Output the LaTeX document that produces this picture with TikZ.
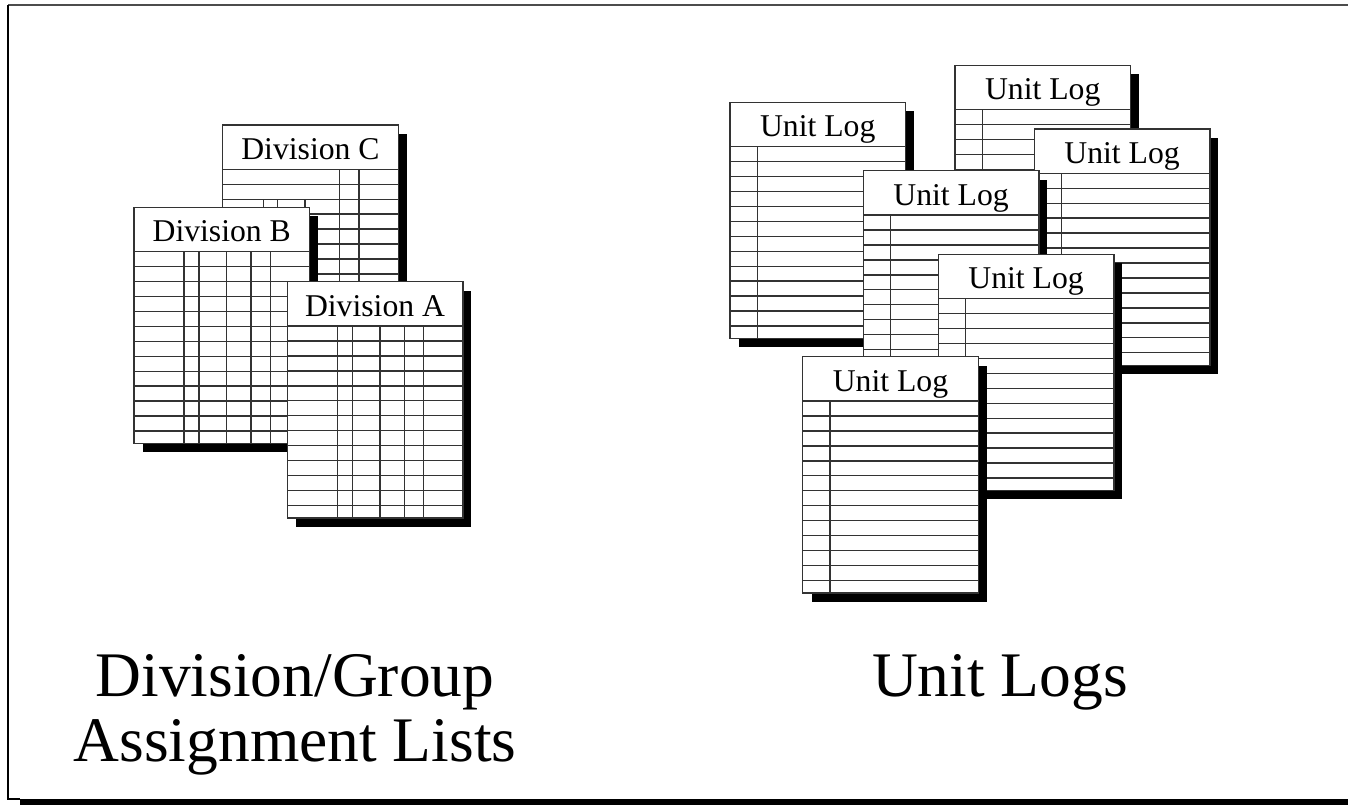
\documentclass[tikz,border=0pt]{standalone}
\usepackage{fontspec}
\setmainfont{Liberation Serif}
\tikzset{
  sheetline/.style={draw=black!80, line width=1.4pt},
  headtext/.style={inner sep=0pt, anchor=base, font=\fontsize{31.7}{36}\selectfont},
  bigtext/.style={inner sep=0pt, anchor=base, font=\fontsize{63.5}{70}\selectfont},
}
\newcommand{\docsheet}[5]{%
  \begin{scope}[shift={(#2,#3)}]
    \fill[black] (9,9) rectangle (184,244.8);
    \filldraw[sheetline, fill=white] (0,0) rectangle (175.5,236.3);
    \draw[sheetline] (0,44.3) -- (175.5,44.3);
    \foreach \k in {1,...,12} \draw[sheetline] (0,44.3+\k*14.95) -- (175.5,44.3+\k*14.95);
    \foreach \c in {#5} \draw[sheetline] (\c,44.3) -- (\c,236.3);
    \node[headtext] (#1) at (87.75,34.4) {#4};
  \end{scope}}
\begin{document}
\begin{tikzpicture}[x=1pt,y=-1pt]
  \useasboundingbox (0,0) rectangle (1348,804);
  \fill[white] (0,0) rectangle (1348,804);
  % frame
  \draw[draw=black!70, line width=2pt] (8,5) -- (1349,5);
  \draw[draw=black, line width=1.6pt] (8,5) -- (8,799) -- (20,799);
  \fill[black] (20,798.5) rectangle (1349,805);
  % Division sheets
  \docsheet{divC}{222.7}{125}{Division C}{116.7,136.3}
  \begin{scope}[shift={(222.7,125)}]
    \foreach \c in {40.7,54.7,82.3} \draw[sheetline] (\c,74.2) -- (\c,236.3);
  \end{scope}
  \docsheet{divB}{134}{207.3}{Division B}{50,65,92.5,117,136.3}
  \docsheet{divA}{287.3}{281.7}{Division A}{50,65,92.5,117,136.3}
  % Unit logs
  \docsheet{ulB}{955}{65.3}{Unit Log}{27.3}
  \docsheet{ulC}{1034.3}{129}{Unit Log}{27.3}
  \docsheet{ulA}{730}{102.3}{Unit Log}{27.3}
  \docsheet{ulD}{863.3}{170.7}{Unit Log}{27.3}
  \docsheet{ulE}{938.3}{254.3}{Unit Log}{27.3}
  \docsheet{ulF}{802.7}{356.7}{Unit Log}{27.3}
  % captions
  \node[bigtext] (cap1) at (295,696) {Division/Group};
  \node[bigtext] (cap2) at (295,761) {Assignment Lists};
  \node[bigtext] (cap3) at (1000,696) {Unit Logs};
\end{tikzpicture}
\end{document}
